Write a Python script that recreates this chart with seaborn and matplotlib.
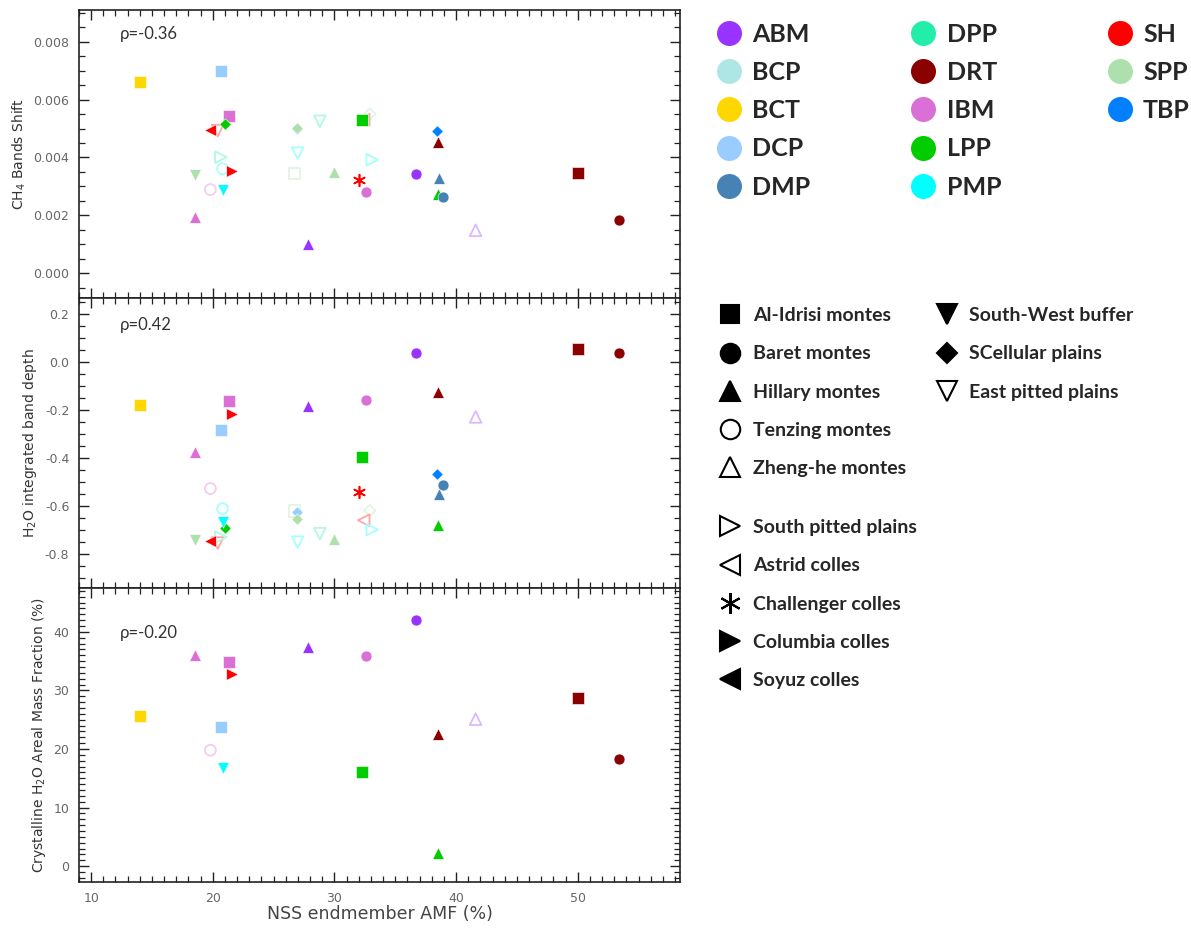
import numpy as np
import matplotlib
matplotlib.use("Agg")
from matplotlib import pyplot as plt
from matplotlib.lines import Line2D
from matplotlib.ticker import MultipleLocator, FormatStrFormatter
from matplotlib.font_manager import FontProperties
import seaborn as sns
import pandas as pd

sns.set_style("ticks")
plt.rcParams['font.family'] = ['DejaVu Sans']
plt.rcParams['mathtext.default'] = 'regular'
plt.rcParams['axes.unicode_minus'] = False

# colour of each geological unit
unit_names = ['ABM', 'BCP', 'BCT', 'DCP', 'DMP', 'DPP', 'DRT', 'IBM', 'LPP', 'PMP', 'SH', 'SPP', 'TBP']
unit_colors = ['#9933ff', '#aee6e6', '#ffd700', '#99ccff', '#4682b4', '#22eeaa', '#8b0000',
               '#da70d6', '#00cc00', '#00ffff', '#ff0000', '#aee0ae', '#0080ff']

# marker of each site
site_names = ['Al-Idrisi montes', 'Baret montes', 'Hillary montes', 'Tenzing montes', 'Zheng-he montes',
              'South pitted plains', 'Astrid colles', 'Challenger colles', 'Columbia colles', 'Soyuz colles',
              'South-West buffer', 'SCellular plains', 'East pitted plains']
site_markers = ['s', 'o', '^', 'o', '^', '>', '<', (6, 2, 0), '>', '<', 'v', 'D', 'v']
site_open = [False, False, False, True, True, True, True, False, False, False, False, False, True]

unit = ['BCT', 'DCP', 'IBM', 'LPP', 'SH', 'SH', 'DCP', 'SPP', 'DPP', 'LPP', 'SPP', 'SH',
        'DPP', 'PMP', 'SH', 'SPP', 'IBM', 'PMP', 'IBM', 'ABM', 'PMP', 'SPP', 'SPP', 'SH',
        'IBM', 'PMP', 'TBP', 'DRT', 'ABM', 'DMP', 'LPP', 'DMP', 'DRT', 'DRT', 'ABM']
site = ['Al-Idrisi montes', 'Al-Idrisi montes', 'Al-Idrisi montes', 'SCellular plains', 'Soyuz colles',
        'East pitted plains', 'SCellular plains', 'SCellular plains', 'East pitted plains', 'Al-Idrisi montes',
        'SCellular plains', 'Astrid colles', 'South pitted plains', 'Tenzing montes', 'Columbia colles',
        'South-West buffer', 'Tenzing montes', 'South-West buffer', 'Hillary montes', 'Hillary montes',
        'East pitted plains', 'Al-Idrisi montes', 'Hillary montes', 'Challenger colles', 'Baret montes',
        'South pitted plains', 'SCellular plains', 'Hillary montes', 'Baret montes', 'Hillary montes',
        'Hillary montes', 'Baret montes', 'Al-Idrisi montes', 'Baret montes', 'Zheng-he montes']
# outline-only markers outside the open sites of the legend
extra_open = [False, False, False, False, False, False, False, False, False, False,
              True, False, False, False, False, False, False, False, False, False,
              False, True, False, False, False, False, False, False, False, False,
              False, False, False, False, False]
amf = [14.0, 20.7, 21.3, 21.0, 19.75, 20.4, 26.9, 26.9, 28.8, 32.26, 32.9, 32.4,
       20.66, 20.8, 21.6, 18.5, 19.8, 20.86, 18.5, 27.8, 26.97, 26.7, 30.0, 31.98,
       32.6, 33.1, 38.4, 38.5, 36.7, 38.57, 38.5, 38.9, 50.0, 53.4, 41.6]
ch4_shift = [0.0066, 0.0070, 0.00545, 0.00516, 0.00495, 0.00493, 0.00500, 0.00501, 0.00525, 0.00531,
             0.0055, 0.00531, 0.00401, 0.00361, 0.00352, 0.00338, 0.00289, 0.00289, 0.00194, 0.00102,
             0.00415, 0.00344, 0.00349, 0.00321, 0.0028, 0.00392, 0.0049, 0.00453, 0.00344, 0.00329,
             0.00275, 0.00263, 0.00346, 0.00183, 0.00148]
h2o_depth = [-0.18, -0.283, -0.161, -0.689, -0.746, -0.753, -0.624, -0.651, -0.714, -0.395,
             -0.617, -0.658, -0.728, -0.61, -0.217, -0.739, -0.526, -0.665, -0.374, -0.182,
             -0.749, -0.62, -0.735, -0.54, -0.158, -0.697, -0.467, -0.126, 0.040, -0.55,
             -0.679, -0.513, 0.053, 0.040, -0.228]
h2o_cryst = [25.6, 23.7, 34.9, np.nan, np.nan, np.nan, np.nan, np.nan, np.nan, 16.1,
             np.nan, np.nan, np.nan, np.nan, 32.9, np.nan, 19.8, 16.7, 36.1, 37.5,
             np.nan, np.nan, np.nan, np.nan, 35.9, np.nan, np.nan, 22.6, 42.05, np.nan,
             2.3, np.nan, 28.7, 18.3, 25.1]
rho_text = ['ρ=-0.36', 'ρ=0.42', 'ρ=-0.20']

color_of = dict(zip(unit_names, unit_colors))
marker_of = dict(zip(site_names, site_markers))
open_of = dict(zip(site_names, site_open))

df = pd.DataFrame({'unit': unit, 'site': site, 'amf': amf,
                   'ch4': ch4_shift, 'h2o': h2o_depth, 'cryst': h2o_cryst})
df['hollow'] = [open_of[s] or e for s, e in zip(site, extra_open)]

asterisk = (6, 2, 0)
sizes = {'s': 68, 'o': 62, '^': 70, 'v': 70, '>': 70, '<': 70, 'D': 34, asterisk: 70}


def pale(c, f=0.35):
    r = np.array(matplotlib.colors.to_rgb(c))
    return tuple(1 - f * (1 - r))


fig = plt.figure(figsize=(11.91, 9.32), dpi=100)
left, width = 79 / 1191, 601 / 1191
bounds = [(10, 298), (298, 588), (588, 882)]
columns = ['ch4', 'h2o', 'cryst']
ylabels = ['CH$_4$ Bands Shift', 'H$_2$O integrated band depth', 'Crystalline H$_2$O Areal Mass Fraction (%)']
ylims = [(-0.00086, 0.0091), (-0.94, 0.267), (-2.7, 47.5)]
ymajor = [0.002, 0.2, 10]
yminor = [0.0005, 0.05, 1]
yfmt = ['%.3f', '%.1f', '%d']
rho_y = [0.917, 0.907, 0.847]
label_font = FontProperties(family=['Liberation Sans Narrow', 'DejaVu Sans'], size=10)

axes = []
for i, (t, b) in enumerate(bounds):
    ax = fig.add_axes([left, 1 - b / 932, width, (b - t) / 932], sharex=axes[0] if axes else None)
    axes.append(ax)
    col = columns[i]
    for (u, s_, h), sub in df.dropna(subset=[col]).groupby(['unit', 'site', 'hollow'], sort=False):
        m = marker_of[s_]
        c = color_of[u]
        if h:
            sns.scatterplot(data=sub, x='amf', y=col, ax=ax, marker=m, s=sizes[m],
                            facecolor='none', edgecolor=pale(c), linewidth=1.3, legend=False, zorder=3)
        elif m == asterisk:
            sns.scatterplot(data=sub, x='amf', y=col, ax=ax, marker=m, s=sizes[m], color=c,
                            linewidth=1.2, legend=False, zorder=4)
        else:
            sns.scatterplot(data=sub, x='amf', y=col, ax=ax, marker=m, s=sizes[m], color=c,
                            edgecolor='white', linewidth=0.4, legend=False, zorder=4)

    ax.set_xlim(9, 58.4)
    ax.set_ylim(*ylims[i])
    ax.xaxis.set_major_locator(MultipleLocator(10))
    ax.xaxis.set_minor_locator(MultipleLocator(1))
    ax.yaxis.set_major_locator(MultipleLocator(ymajor[i]))
    ax.yaxis.set_minor_locator(MultipleLocator(yminor[i]))
    ax.yaxis.set_major_formatter(FormatStrFormatter(yfmt[i]))
    ax.tick_params(which='both', direction='in', top=True, right=True, color='#222222',
                   labelcolor='#666666', labelsize=9, pad=7)
    ax.tick_params(which='major', length=7, width=1)
    ax.tick_params(which='minor', length=4, width=0.9)
    for sp in ax.spines.values():
        sp.set_linewidth(1.2)
        sp.set_color('#222222')
    ax.set_ylabel(ylabels[i], fontproperties=label_font, color='#333333')
    ax.set_xlabel('')
    ax.text(0.068, rho_y[i], rho_text[i], transform=ax.transAxes, ha='left', va='center',
            fontsize=12, family=['Lato', 'DejaVu Sans'], color='#333333')
    if i < 2:
        ax.tick_params(labelbottom=False)

axes[-1].set_xlabel('NSS endmember AMF (%)', fontsize=12.5, color='#444444', labelpad=0)

# legends, one per column
W, H = 1191, 932


def column_legend(labels, handles, xc, yc, fs, handle_px, text_x, pitch):
    fs_px = fs * 100 / 72
    text_h = 0.97 * fs_px
    hlen = handle_px / fs_px
    tpad = (text_x - (xc + handle_px / 2)) / fs_px
    lspace = (pitch - text_h) / fs_px
    x0 = (xc - handle_px / 2) / W
    y0 = 1 - (yc - text_h / 2 + 1.7) / H
    leg = fig.legend(handles=handles, labels=labels, loc='upper left', bbox_to_anchor=(x0, y0),
                     frameon=False, borderpad=0, borderaxespad=0, handlelength=hlen,
                     handletextpad=tpad, labelspacing=lspace,
                     prop=FontProperties(family=['Lato', 'DejaVu Sans'], weight='bold', size=fs))
    return leg


def unit_handle(u):
    return Line2D([], [], ls='', marker='o', markersize=18, color=color_of[u], markeredgewidth=0)


unit_cols = [(unit_names[0:5], 729, 752), (unit_names[5:10], 923, 947), (unit_names[10:13], 1120, 1143)]
for names, xc, tx in unit_cols:
    column_legend(names, [unit_handle(u) for u in names], xc, 33, 18, 24, tx, 39.5)


def site_handle(s_):
    m = marker_of[s_]
    ms = {'s': 13.5, 'o': 14, 'D': 10, asterisk: 15}.get(m, 14)
    if open_of[s_]:
        return Line2D([], [], ls='', marker=m, markersize=ms, markerfacecolor='white',
                      markeredgecolor='black', markeredgewidth=1.5)
    return Line2D([], [], ls='', marker=m, markersize=ms, color='black', markeredgewidth=1.5)


site_cols = [(site_names[0:5], 730, 753, 315), (site_names[10:13], 946.7, 969, 315),
             (site_names[5:10], 730, 753, 527)]
for names, xc, tx, yc in site_cols:
    column_legend(names, [site_handle(s_) for s_ in names], xc, yc, 14, 22, tx, 40)

fig.savefig('out.png', dpi=100)
